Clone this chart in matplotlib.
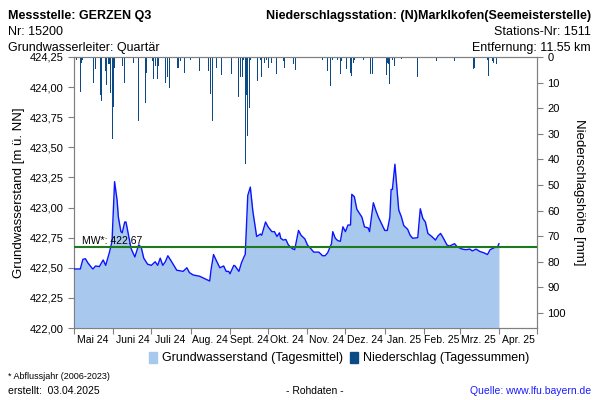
import matplotlib
matplotlib.use("Agg")
import matplotlib.pyplot as plt
from matplotlib.patches import Patch
import numpy as np

plt.rcParams['font.family'] = ['Liberation Sans', 'DejaVu Sans']

# day offsets counted from 2024-05-01
start = np.datetime64('2024-05-01')

level_days = [0, 5, 7, 9, 11, 14, 15, 17, 20, 23, 25, 28, 30, 32, 34, 35, 37, 38, 40, 41,
              43, 45, 48, 51, 53, 55, 58, 61, 64, 66, 68, 70, 72, 74, 77, 81, 86, 89, 91, 94,
              99, 103, 107, 108, 110, 112, 115, 118, 120, 122, 123, 126, 127, 130, 132, 134, 135, 137, 139, 141,
              142, 144, 147, 148, 151, 153, 156, 158, 160, 162, 163, 165, 167, 169, 172, 174, 177, 179, 182, 184,
              187, 189, 193, 196, 198, 200, 203, 204, 206, 208, 210, 212, 214, 216, 218, 219, 221, 223, 227, 229,
              232, 233, 236, 238, 240, 243, 245, 247, 249, 250, 251, 253, 254, 256, 258, 260, 263, 265, 267, 271,
              273, 275, 277, 279, 282, 285, 287, 289, 291, 294, 296, 300, 302, 306, 309, 312, 314, 317, 320, 323,
              326, 328, 332, 334, 335]
level = [422.49, 422.49, 422.57, 422.575, 422.54, 422.50, 422.49, 422.515, 422.51, 422.565,
         422.52, 422.63, 422.72, 423.215, 423.06, 422.92, 422.80, 422.79, 422.88, 422.88,
         422.77, 422.66, 422.59, 422.69, 422.67, 422.58, 422.53, 422.52, 422.55, 422.52,
         422.58, 422.52, 422.55, 422.60, 422.55, 422.48, 422.47, 422.50, 422.46, 422.44,
         422.43, 422.41, 422.39, 422.48, 422.61, 422.565, 422.50, 422.515, 422.47, 422.47,
         422.45, 422.52, 422.515, 422.47, 422.54, 422.59, 422.61, 423.10, 423.17, 422.97,
         422.90, 422.76, 422.78, 422.77, 422.88, 422.84, 422.80, 422.80, 422.76, 422.79,
         422.745, 422.73, 422.735, 422.69, 422.66, 422.65, 422.81, 422.77, 422.74, 422.69,
         422.655, 422.63, 422.63, 422.60, 422.60, 422.625, 422.70, 422.80, 422.745, 422.725,
         422.72, 422.84, 422.80, 422.855, 422.855, 423.11, 423.09, 422.985, 422.92, 422.84,
         422.83, 422.80, 423.04, 422.975, 422.92, 422.855, 422.81, 422.81, 422.92, 423.15,
         423.15, 423.36, 423.23, 422.98, 422.925, 422.85, 422.82, 422.77, 422.745, 422.75,
         422.99, 422.91, 422.88, 422.785, 422.76, 422.73, 422.765, 422.785, 422.75, 422.69,
         422.68, 422.70, 422.675, 422.655, 422.65, 422.655, 422.64, 422.655, 422.635, 422.625,
         422.61, 422.65, 422.67, 422.675, 422.70]

rain_days = [2, 5, 6, 7, 15, 17, 21, 22, 25, 26, 27, 28, 29, 30, 31, 32, 36, 38, 40, 41,
             45, 47, 51, 56, 57, 60, 62, 63, 64, 66, 67, 70, 72, 74, 75, 77, 82, 84, 87, 88,
             92, 94, 95, 98, 99, 105, 106, 108, 109, 112, 116, 124, 130, 131, 133, 134, 135, 136, 137, 138,
             139, 145, 147, 148, 150, 152, 153, 156, 160, 165, 166, 173, 175, 196, 200, 202, 204, 206, 208, 210,
             211, 215, 216, 218, 219, 220, 221, 228, 232, 234, 235, 246, 247, 248, 249, 251, 253, 258, 271, 286,
             300, 315, 316, 326, 327, 330, 331, 333]
rain = [1.0, 13.5, 2.2, 1.3, 10.0, 4.8, 15.0, 17.0, 5.4, 11.0, 2.6, 2.9, 14.0, 32.0, 19.7, 4.2, 0.5, 3.5, 10.0, 0.5,
        0.5, 2.2, 25.0, 18.0, 6.1, 0.5, 1.6, 8.7, 3.5, 8.7, 3.5, 0.5, 10.0, 8.0, 12.0, 0.5, 4.2, 1.6, 6.1, 0.5,
        1.0, 0.5, 0.5, 0.5, 5.4, 0.5, 5.4, 14.3, 25.0, 4.2, 7.0, 6.7, 15.8, 8.0, 8.0, 1.0, 42.0, 15.0, 31.0, 20.0,
        1.0, 9.3, 1.0, 8.0, 2.2, 1.0, 4.2, 2.2, 6.7, 1.5, 4.2, 2.6, 5.2, 1.3, 5.4, 11.5, 1.0, 0.5, 1.3, 6.5,
        1.6, 4.8, 0.5, 6.1, 7.4, 2.2, 1.0, 1.0, 0.5, 6.5, 6.8, 7.0, 2.2, 2.9, 10.6, 1.0, 3.5, 0.8, 7.7, 1.6,
        1.6, 4.8, 4.2, 1.3, 7.4, 1.6, 2.2, 2.6]

mean_level = 422.67
month_labels = ['Mai 24', 'Juni 24', 'Juli 24', 'Aug. 24', 'Sept. 24', 'Okt. 24', 'Nov. 24',
                'Dez. 24', 'Jan. 25', 'Feb. 25', 'Mrz. 25', 'Apr. 25']

level_dates = start + np.array(level_days).astype('timedelta64[D]')
rain_dates = start + np.array(rain_days).astype('timedelta64[D]')

fig = plt.figure(figsize=(6, 4), dpi=100)
ax = fig.add_axes([0.1233, 0.18, 0.7717, 0.6775])
ax2 = ax.twinx()

grey = '#808080'
ax.fill_between(level_dates, level, 422.0, color='#a8c8ee', lw=0, zorder=1)
ax.plot(level_dates, level, color='#0a14ff', lw=1.0, zorder=3)
ax.axhline(mean_level, color='#1f7a1f', lw=1.5, zorder=4)
ax.text(np.datetime64('2024-05-07'), mean_level + 0.01, 'MW*: 422.67', fontsize=7.5,
        va='bottom', ha='left', zorder=5)

ax2.bar(rain_dates, rain, width=0.8, color='#0b4a85', lw=0)
ax2.set_ylim(105.9, 0)
ax2.set_yticks(np.arange(0, 101, 10))
ax2.set_ylabel('Niederschlagshöhe [mm]', rotation=270, labelpad=14, fontsize=9.5)

ax.set_ylim(422.0, 424.25)
yt = np.arange(422.0, 424.26, 0.25)
ax.set_yticks(yt)
ax.set_yticklabels([f'{v:.2f}'.replace('.', ',') for v in yt])
ax.set_ylabel('Grundwasserstand [m ü. NN]', fontsize=9.5, labelpad=3)

months = np.arange(np.datetime64('2024-05'), np.datetime64('2025-06'), np.timedelta64(1, 'M')).astype('datetime64[D]')
ax.set_xlim(months[0], months[-1])
ax.set_xticks(months)
ax.set_xticklabels([])
mids = months[:-1] + (months[1:] - months[:-1]) // 2
ax.set_xticks(mids, minor=True)
ax.set_xticklabels(month_labels, minor=True, fontsize=7.5)

for a in (ax, ax2):
    for s in a.spines.values():
        s.set_color(grey)
    a.tick_params(axis='both', which='major', color=grey, length=4, labelsize=8)
ax.tick_params(axis='x', which='minor', length=0, pad=5)
ax.set_zorder(ax2.get_zorder() + 1)
ax.patch.set_visible(False)

fig.text(0.013, 0.975, 'Messstelle: GERZEN Q3', fontsize=9, fontweight='bold', va='top')
fig.text(0.013, 0.935, 'Nr: 15200', fontsize=9, va='top')
fig.text(0.013, 0.895, 'Grundwasserleiter: Quartär', fontsize=9, va='top')
fig.text(0.985, 0.975, 'Niederschlagsstation: (N)Marklkofen(Seemeisterstelle)', fontsize=9,
         fontweight='bold', va='top', ha='right')
fig.text(0.985, 0.935, 'Stations-Nr: 1511', fontsize=9, va='top', ha='right')
fig.text(0.985, 0.895, 'Entfernung: 11.55 km', fontsize=9, va='top', ha='right')

handles = [Patch(color='#a8c8ee'), Patch(color='#0b4a85')]
fig.legend(handles, ['Grundwasserstand (Tagesmittel)', 'Niederschlag (Tagessummen)'],
           loc='center', bbox_to_anchor=(0.565, 0.105), ncol=2, frameon=False, fontsize=9,
           handlelength=0.6, handleheight=1.0, handletextpad=0.4, columnspacing=0.6)

fig.text(0.013, 0.058, '* Abflussjahr (2006-2023)', fontsize=6.5, va='center')
fig.text(0.013, 0.022, 'erstellt:  03.04.2025', fontsize=7.5, va='center')
fig.text(0.525, 0.022, '- Rohdaten -', fontsize=7.5, va='center', ha='center')
fig.text(0.985, 0.022, 'Quelle: www.lfu.bayern.de', fontsize=7.5, va='center', ha='right', color='#1a1aff')

fig.savefig('out.png', dpi=100)
